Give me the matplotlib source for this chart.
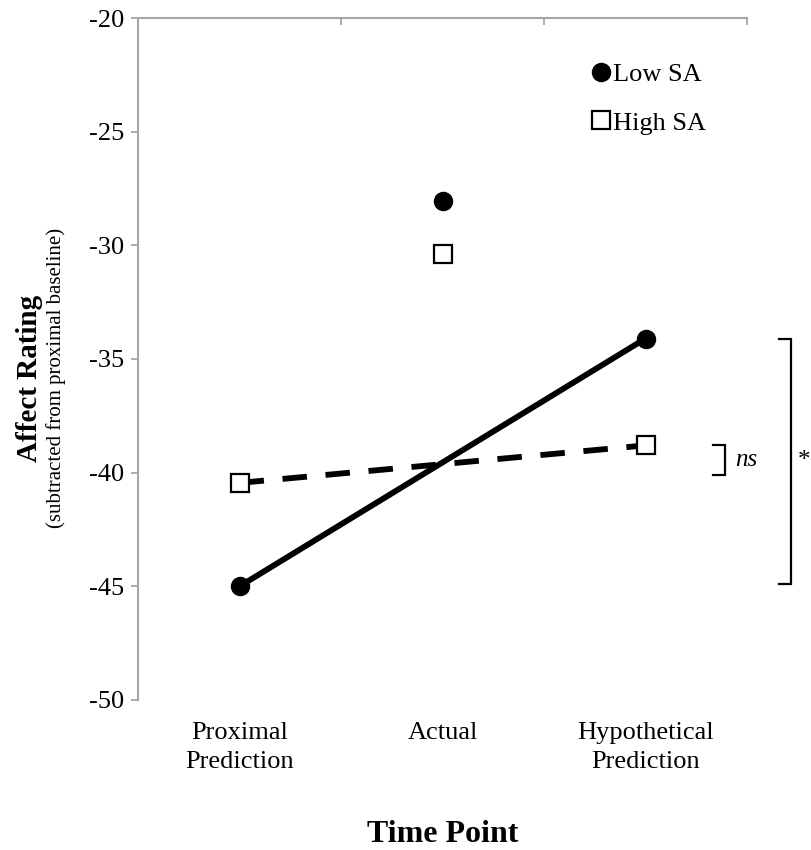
import numpy as np
import matplotlib
matplotlib.use('Agg')
import matplotlib.pyplot as plt
from matplotlib.lines import Line2D

plt.rcParams['font.family'] = ['Liberation Serif', 'DejaVu Serif']
plt.rcParams['axes.unicode_minus'] = False

# data
categories = ['Proximal\nPrediction', 'Actual', 'Hypothetical\nPrediction']
low_sa = [-45.0, -28.05, -34.1]
high_sa = [-40.45, -30.4, -38.8]
ns_range = [-38.8, -40.1]
star_range = [-34.1, -44.9]

x = np.arange(len(categories)) + 0.5
grey = '#a6a6a6'

fig = plt.figure(figsize=(8.12, 8.5), dpi=100)
ax = fig.add_axes([0.170, 0.1765, 0.750, 0.8023])

# lines only between the two predictions
ax.plot([x[0], x[2]], [low_sa[0], low_sa[2]], color='black', lw=4.2,
        solid_capstyle='butt', zorder=2)
ax.plot([x[0], x[2]], [high_sa[0], high_sa[2]], color='black', lw=4.2,
        linestyle=(0, (4.2, 3.2)), dash_capstyle='butt', zorder=2)

# markers
ax.plot(x, low_sa, 'o', color='black', markersize=13, zorder=3)
ax.plot(x, high_sa, 's', markerfacecolor='white', markeredgecolor='black',
        markeredgewidth=1.6, markersize=13.5, zorder=3)

ax.set_xlim(0, 3)
ax.set_ylim(-50, -20)
ax.set_yticks(np.arange(-50, -19, 5))
ax.tick_params(axis='y', direction='out', length=5, width=1.3, color=grey,
               labelsize=19, pad=5)

# categories at bottom, axis line at top
ax.set_xticks(x)
ax.set_xticklabels(categories, fontsize=19, linespacing=1.4)
ax.tick_params(axis='x', which='major', length=0, pad=16)
ax.set_xticks([1, 2, 3], minor=True)
ax.tick_params(axis='x', which='minor', top=True, bottom=False,
               direction='in', length=5, width=1.3, color=grey)

for s in ['right', 'bottom']:
    ax.spines[s].set_visible(False)
for s in ['left', 'top']:
    ax.spines[s].set_color(grey)
    ax.spines[s].set_linewidth(1.5)

ax.set_xlabel('Time Point', fontsize=23, fontweight='bold', labelpad=34)

fig.text(0.036, 0.555, 'Affect Rating', rotation=90, fontsize=21,
         fontweight='bold', ha='center', va='center')
fig.text(0.069, 0.555, '(subtracted from proximal baseline)', rotation=90,
         fontsize=15, ha='center', va='center')

# legend
handles = [Line2D([], [], marker='o', color='black', linestyle='none', markersize=13),
           Line2D([], [], marker='s', markerfacecolor='white', markeredgecolor='black',
                  markeredgewidth=1.6, linestyle='none', markersize=13.5)]
ax.legend(handles, ['Low SA', 'High SA'], loc='upper left',
          bbox_to_anchor=(0.73, 0.95), frameon=False, fontsize=19,
          handlelength=0.6, handletextpad=0.15, labelspacing=0.95,
          borderaxespad=0)

# significance brackets
def bracket(x0, x1, ylo, yhi):
    ax.plot([x0, x1, x1, x0], [yhi, yhi, ylo, ylo], color='black', lw=1.6,
            clip_on=False, solid_joinstyle='miter')

bracket(2.833, 2.89, ns_range[1], ns_range[0])
ax.text(2.94, np.mean(ns_range), 'ns', fontsize=18, style='italic',
        va='center', ha='left')
bracket(3.158, 3.215, star_range[1], star_range[0])
ax.text(3.28, np.mean(star_range), '*', fontsize=18, va='center', ha='center',
        clip_on=False)

fig.savefig('out.png', dpi=100, facecolor='white')
